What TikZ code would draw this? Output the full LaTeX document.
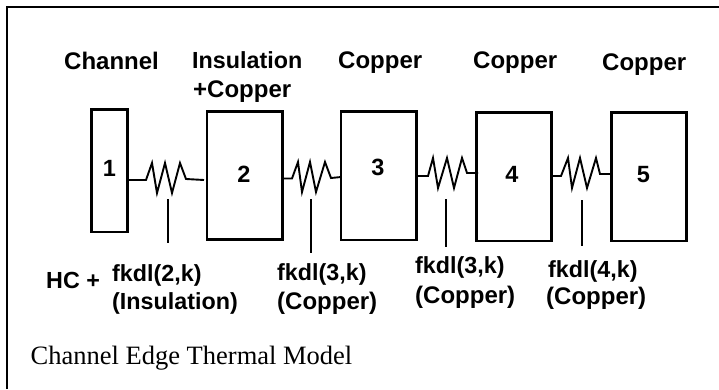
\documentclass[tikz,border=0pt]{standalone}
\usepackage{fontspec}
\setmainfont{Liberation Serif}
\newfontfamily\lab{Liberation Sans}
\tikzset{x=1pt,y=-1pt,
 box/.style={draw=black,line width=2.1pt,fill=white,inner sep=0pt,outer sep=0pt},
 lbl/.style={font=\lab\bfseries\fontsize{23.3}{26}\selectfont,inner sep=0pt,align=left},
 cop/.style={lbl,font=\lab\bfseries\fontsize{24}{26}\selectfont},
 num/.style={font=\lab\bfseries\fontsize{23.5}{26}\selectfont,inner sep=0pt},
 wire/.style={line width=1.9pt,line join=miter},
 tick/.style={line width=2pt}}
\newcommand{\mkbox}[5]{\node[box,minimum width=#4-#2,minimum height=#5-#3] (#1) at ({(#2+#4)/2},{(#3+#5)/2}) {};}
\begin{document}
\begin{tikzpicture}
\useasboundingbox (0,0) rectangle (719,389);
\fill[white] (0,0) rectangle (719,389);
\draw[line width=2.6pt] (7,389) -- (7,7) -- (719,7);
\mkbox{b1}{91.5}{109.5}{127.5}{232}
\mkbox{b2}{207}{111.5}{282.5}{239.5}
\mkbox{b3}{341}{111.5}{416.5}{240}
\mkbox{b4}{476.5}{112.5}{551.5}{241}
\mkbox{b5}{611.5}{112.5}{686.5}{241}
\node[num,anchor=base] at (109.5,176.5) {1};
\node[num,anchor=base] at (244,182) {2};
\node[num,anchor=base] at (378,175) {3};
\node[num,anchor=base] at (512,182) {4};
\node[num,anchor=base] at (643.5,182) {5};
\coordinate (r1a) at (127.5,180); \coordinate (r1b) at (204,180);
\draw[wire] (r1a) -- (146,180) -- (152,163) -- (157,193) -- (165,163) -- (172,193) -- (180,163) -- (186,179) -- (r1b);
\coordinate (r2a) at (282.5,178.5); \coordinate (r2b) at (341,177);
\draw[wire] (r2a) -- (292,178.5) -- (298,162) -- (302,192) -- (310,162) -- (316,192) -- (325,162) -- (331,178) -- (r2b);
\coordinate (r3a) at (416.5,176); \coordinate (r3b) at (478,173);
\draw[wire] (r3a) -- (428,176) -- (433,158) -- (438,188) -- (447,158) -- (454,188) -- (462,158) -- (467,173) -- (r3b);
\coordinate (r4a) at (551.5,176); \coordinate (r4b) at (611.5,174);
\draw[wire] (r4a) -- (561,176) -- (568,158) -- (572,188) -- (580,158) -- (587,188) -- (596,158) -- (600,174) -- (r4b);
\node[cop,anchor=base west] (t1) at (64,69) {Channel};
\node[lbl,anchor=base west] (t2) at (192,68) {Insulation};
\node[cop,anchor=base west] (t2b) at (193,97) {+Copper};
\node[cop,anchor=base west] (t3) at (338,68) {Copper};
\node[cop,anchor=base west] (t4) at (473,68) {Copper};
\node[cop,anchor=base west] (t5) at (602,70) {Copper};
\node[lbl,anchor=base west] (hc) at (46,288) {HC +};
\node[lbl,anchor=base west] (f2) at (112,281) {fkdl(2,k)};
\node[lbl,anchor=base west] (i2) at (112,309) {(Insulation)};
\node[lbl,anchor=base west] (f3) at (277,280) {fkdl(3,k)};
\node[cop,anchor=base west] (c3) at (277,309) {(Copper)};
\node[lbl,anchor=base west] (f3b) at (415,273) {fkdl(3,k)};
\node[cop,anchor=base west] (c3b) at (415,303) {(Copper)};
\node[lbl,anchor=base west] (f4) at (548,277) {fkdl(4,k)};
\node[cop,anchor=base west] (c4) at (546,304) {(Copper)};
\coordinate (l1) at (167.5,199); \coordinate (l1e) at (167.5,243);
\coordinate (l2) at (310.5,199); \coordinate (l2e) at (310.5,253);
\coordinate (l3) at (445.5,199); \coordinate (l3e) at (445.5,247);
\coordinate (l4) at (582,200); \coordinate (l4e) at (582,246);
\draw[tick] (l1) -- (l1e);
\draw[tick] (l2) -- (l2e);
\draw[tick] (l3) -- (l3e);
\draw[tick] (l4) -- (l4e);
\node[anchor=base west,inner sep=0pt,font=\fontsize{26.5}{30}\selectfont] (cap) at (30.5,364) {Channel Edge Thermal Model};
\end{tikzpicture}
\end{document}
